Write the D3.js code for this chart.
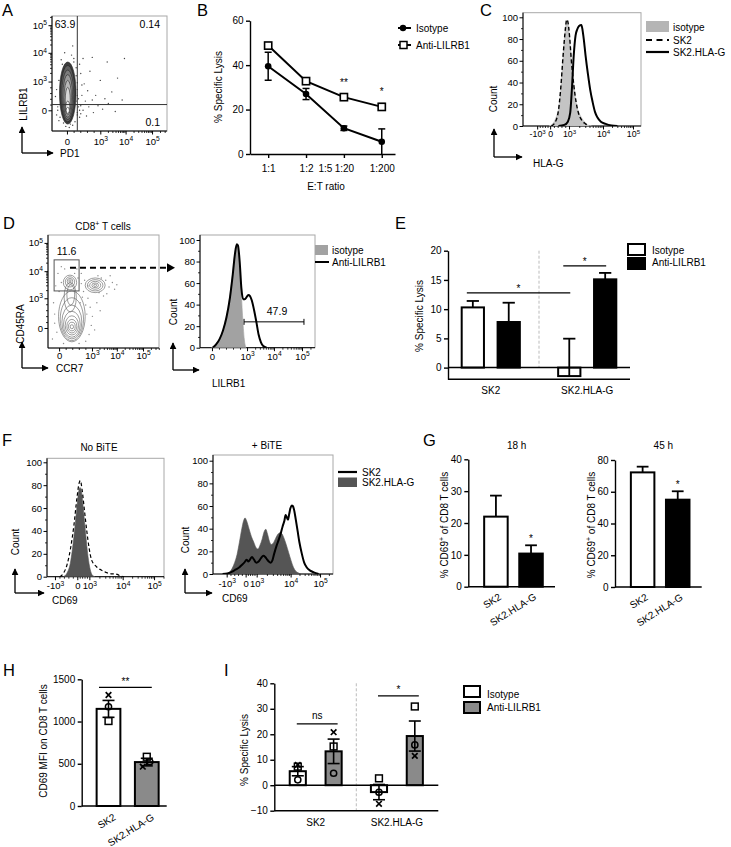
<!DOCTYPE html>
<html>
<head>
<meta charset="utf-8">
<script src="https://cdn.jsdelivr.net/npm/d3@7/dist/d3.min.js"></script>
<style>html,body{margin:0;padding:0;background:#fff;}svg{display:block;}</style>
</head>
<body>
<script>
// ======================= DATA =======================
// --- A: LILRB1 vs PD1 (display channel units 0-100) ---
const logLabels = ["0", "10^{3}", "10^{4}", "10^{5}"];
const negLogLabels = ["-10^{3}", "0", "10^{3}", "10^{4}", "10^{5}"];
const aXTickCh = [13, 42, 64, 87];
const aYTickCh = [18, 43, 68, 92];
const aQuadCut = [22, 23];
const aQuadPct = ["63.9", "0.14", "0.1"];
const aContours = [[13.7,33,7.2,27],[13.7,32.5,6.2,24.5],[13.7,31.5,5.2,21.5],[13.7,30.5,4.2,18.5],
  [13.7,29,3.2,15],[13.7,27,2.2,11],[13.7,21,1.8,5],[13.7,18,1.4,2.6]];
const aEvents = [[7,12],[8,28],[6,44],[9,58],[11,68],[17,66],[19,60],[21,48],[22,36],[23,28],[22,14],[20,8],[16,6],[10,7],[5,18],
  [25,22],[26,31],[27,18],[28,41],[29,26],[30,13],[31,35],[32,21],[33,52],[35,27],[36,16],[38,31],[40,22],[42,44],[44,19],
  [46,28],[48,60],[49,24],[52,34],[55,17],[57,46],[61,27],[24,58],[27,63],[18,74],[35,64],[63,63],[24,12],[26,40],[25,50],
  [4,14],[5,21],[6,9],[22,16],[23,21],[24,18],[25,15],[21,26],[22,31],[3,30],[4,36],[22,42],[21,55],[8,62],[19,63],[12,4],[15,3],[18,5]];

// --- B: % specific lysis vs E:T ratio ---
const bRatios = ["1:1", "1:2", "1:20", "1:200"];
const bTickLabels = ["1:1", "1:2", "1:5", "1:20", "1:200"];
const bTickAt = [0, 1, 1.5, 2, 3];
const bYTicks = [0, 20, 40, 60];
const bIsotype = [39.5, 27, 11.6, 5.5];
const bIsotypeErr = [6.3, 2.5, 1.0, 5.8];
const bAnti = [48.8, 32.8, 25.6, 21.2];
const bAntiErr = [1.3, 1.0, 1.0, 1.5];
const bStars = ["", "", "**", "*"];
const bLegend = ["Isotype", "Anti-LILRB1"];

// --- C: HLA-G histograms ---
const countTicks = [0, 20, 40, 60, 80, 100];
const cXTickCh = [12, 23, 39, 67.8, 93.2];
const cIsotype = [[22,0],[25,2],[28,8],[31,22],[33,50],[35,80],[36.5,95],[37.5,97],[38.5,92],[40,75],[42,50],[44,30],[46,17],[49,9],[52,4],[55,1],[58,0]];
const cSK2 = [[24,0],[27,3],[30,14],[32,35],[34,65],[36,90],[37,98],[38,96],[39.5,82],[41,60],[43,38],[45,22],[47,12],[50,5],[53,2],[56,0]];
const cHLAG = [[30,0],[35,1],[38,4],[40,12],[41.5,35],[43,65],[44.5,83],[46,89],[47.5,92],[49.5,93],[50.5,88],[51.5,80],[53,65],[55,48],[57,33],[59,22],[61,13],[63,8],[66,4],[70,2],[75,0.5],[80,0]];
const cLegend = ["isotype", "SK2", "SK2.HLA-G"];

// --- D: CD45RA vs CCR7 and LILRB1 histogram ---
const dXTickCh = [10, 39.6, 62, 85.6];
const dYTickCh = [17.7, 44, 68, 93];
const dContours = [
  [21.5,28,12,22.5],[21.5,25.5,10.5,19],[21.5,23,9,15],[21.5,21,7.5,11.5],[21.5,20,6,8.5],[21.5,19.3,4.5,6],[21.5,19,3,3.8],[21.5,18.8,1.5,1.8],
  [20,45,5.5,13],[20.5,47,3.5,9],
  [19.8,58,6,6.5],[19.8,58.5,4.2,4.5],[19.8,59,2.5,2.6],[19.8,59.3,1,1.1],
  [42.5,55.5,9,6.5],[42.5,55.5,7,5],[42.5,55.5,5,3.5],[42.5,55.5,3,2.1],[42.5,55.5,1.3,1]
];
const dEvents = [[4,8],[6,22],[5,40],[7,55],[9,66],[12,72],[15,70],[26,70],[30,66],[33,60],[32,50],[36,44],[38,36],[40,28],[39,20],[37,12],[34,6],[28,4],[14,4],[8,14],
  [30,57],[27,62],[48,62],[52,60],[55,54],[53,48],[50,46],[46,49],[58,58],[60,52],[44,40],[47,33],[42,16],[35,30],[34,38],[24,66],[10,50],[6,30],[56,64],[36,55],[62,56],[45,64],[31,45],[29,40],[12,58]];
const dGate = [5.5, 50.5, 28, 78];
const dGatePct = "11.6";
const dHXTickCh = [10.4, 40.9, 64.3, 88.7];
const dIsotype = [[10,0],[13,2],[16,6],[19,13],[22,25],[25,42],[28,65],[30,85],[31.5,94],[32.5,95],[34,85],[35.5,60],[37,30],[38.5,8],[40,0]];
const dAnti = [[11,0],[14,3],[17,8],[20,16],[23,28],[26,46],[28.5,68],[30.5,88],[32,96],[33,95],[34.5,80],[36,55],[37.5,45],[39,45],[40.5,47],[42,49],[43.5,48],[45,44],[47,35],[49,24],[51,12],[53,5],[55,1.5],[58,0]];
const dMarker = [38.3, 90.4, 24];
const dMarkerPct = "47.9";
const dLegend = ["isotype", "Anti-LILRB1"];

// --- E: % specific lysis, bars ---
const eGroups = ["SK2", "SK2.HLA-G"];
const eSeries = ["Isotype", "Anti-LILRB1"];
const eIsotype = [10.3, -1.45];
const eIsotypeErr = [1.1, 6.4];
const eAnti = [7.8, 15.1];
const eAntiErr = [3.3, 1.1];
const eYTicks = [0, 5, 10, 15, 20];
const eSig = [
  {g1: "SK2", s1: "Isotype", g2: "SK2.HLA-G", s2: "Isotype", at: 12.8, label: "*"},
  {g1: "SK2.HLA-G", s1: "Isotype", g2: "SK2.HLA-G", s2: "Anti-LILRB1", at: 17.4, label: "*"}
];

// --- F: CD69 histograms ---
const fLXTickCh = [6.8, 25.9, 36.2, 64.7, 91.5];
const fRXTickCh = [11.4, 27.2, 36.4, 64.7, 89.2];
const fNoBiteFill = [[14,0],[17,3],[20,12],[23,35],[25.5,60],[27,74],[28.2,78],[29.5,74],[31,60],[33,38],[35,18],[37,6],[39,1],[41,0]];
const fNoBiteDash = [[11,0],[14,3],[17,10],[20,24],[23,45],[25.5,68],[27.5,82],[28.5,84],[30,76],[32,58],[34,40],[36,25],[38,15],[42,9],[46,6],[50,4],[55,2.5],[58,2.5],[60,2],[63,0.5],[66,0]];
const fHLAG = [[10,0],[13,1],[16,5],[18,10],[20,17],[22,28],[24,40],[25.5,47],[26.7,49.5],[28,47],[30,40],[32,33],[34,28],[36,23],[37.5,22],[39,25],[41,31],[42.5,37],[44,39.5],[45.5,35],[47,29],[48.5,26],[50,27],[52,31],[54,35],[56,36.5],[57.5,35.5],[59,32],[61,26],[63,19],[65,12],[67,6],[69,2.5],[71,1],[73,0]];
const fSK2 = [[8,0],[12,0.5],[16,2],[19,4],[22,6],[24,8],[26,10],[28,12.5],[29.5,11],[31,13],[32.5,15],[34,13],[36,10],[38,11],[40,14],[42,16],[43.5,15],[45,13],[46.5,11],[48,10],[49.5,12],[51,18],[53,25],[55,31],[56.5,36],[58,42],[59.5,47],[60.5,52],[61.5,50],[62.5,48],[63.5,53],[64.5,58],[65.6,60.5],[66.5,60],[67.5,57],[69,48],[70.5,38],[72,28],[74,18],[76,10],[78,6],[81,3],[84,1.5],[88,0]];
const fLegend = ["SK2", "SK2.HLA-G"];

// --- G: % CD69+ of CD8 T cells ---
const gGroups = ["SK2", "SK2.HLA-G"];
const g18Mean = [22, 10.4];
const g18Err = [6.6, 2.6];
const g45Mean = [72.2, 55];
const g45Err = [3.6, 5.3];
const g18Ticks = [0, 10, 20, 30, 40];
const g45Ticks = [0, 20, 40, 60, 80];

// --- H: CD69 MFI ---
const hGroups = ["SK2", "SK2.HLA-G"];
const hMean = [1150, 520];
const hSem = [100, 45];
const hDonorMarks = ["x", "circle", "square"];
const hValues = [[1314, 1175, 1006], [465, 524, 583]];
const hTicks = [0, 500, 1000, 1500];

// --- I: % specific lysis with donors ---
const iGroups = ["SK2", "SK2.HLA-G"];
const iSeries = ["Isotype", "Anti-LILRB1"];
const iIsotype = [5.5, -2.7];
const iIsotypeErr = [1.8, 3.0];
const iAnti = [13.3, 19.3];
const iAntiErr = [4.8, 5.9];
const iDonorMarks = ["x", "circle", "square"];
const iIsotypePts = [[8, 2.1, 7.3], [-7.3, -2.75, 2.7]];
const iAntiPts = [[20.8, 4.7, 15.2], [11.5, 15.8, 30.9]];
const iTicks = [-10, 0, 10, 20, 30, 40];

// ======================= RENDER =======================
const FONT = "'Liberation Sans', Arial, Helvetica, sans-serif";
const svg = d3.select("body").append("svg").attr("width", 731).attr("height", 847).attr("font-family", FONT);
svg.append("rect").attr("width", 731).attr("height", 847).attr("fill", "#fff");
const defs = svg.append("defs");
function mkArrow(id, size) {
  defs.append("marker").attr("id", id).attr("viewBox", "0 0 10 10").attr("refX", 9).attr("refY", 5)
    .attr("markerWidth", size).attr("markerHeight", size).attr("markerUnits", "userSpaceOnUse")
    .attr("orient", "auto").append("path").attr("d", "M0,0L10,5L0,10Z").attr("fill", "#000");
}
mkArrow("arr", 7);
let clipN = 0;
function clipRect(x, y, w, h) {
  const id = "clip" + (clipN++);
  defs.append("clipPath").attr("id", id).append("rect").attr("x", x).attr("y", y).attr("width", w).attr("height", h);
  return `url(#${id})`;
}

function rich(sel, str, fs) {
  sel.text(null);
  const parts = str.split(/(\^\{[^}]*\})/).filter(s => s.length);
  const sh = fs * 0.38;
  let raised = false;
  parts.forEach(p => {
    if (p.startsWith("^{")) {
      sel.append("tspan").attr("dy", -sh).attr("font-size", fs * 0.7).text(p.slice(2, -1));
      raised = true;
    } else {
      const t = sel.append("tspan").text(p);
      if (raised) { t.attr("dy", sh); raised = false; }
    }
  });
}
function txt(x, y, str, o = {}) {
  const fs = o.fs || 10;
  const t = svg.append("text").attr("font-size", fs).attr("text-anchor", o.anchor || "start").attr("fill", "#000");
  if (o.rot) t.attr("transform", `translate(${x},${y}) rotate(${o.rot})`);
  else t.attr("x", x).attr("y", y);
  rich(t, str, fs);
  return t;
}
function styleAx(g, fs, sw) {
  g.attr("font-family", FONT).attr("font-size", fs);
  g.select(".domain").attr("stroke", "#000").attr("stroke-width", sw);
  g.selectAll(".tick line").attr("stroke", "#000").attr("stroke-width", sw);
  g.selectAll(".tick text").attr("fill", "#000");
}
function line(x1, y1, x2, y2, sw = 1, col = "#000", dash = null) {
  const l = svg.append("line").attr("x1", x1).attr("y1", y1).attr("x2", x2).attr("y2", y2)
    .attr("stroke", col).attr("stroke-width", sw);
  if (dash) l.attr("stroke-dasharray", dash);
  return l;
}
function axisArrows(cx, cy, topY, rightX) {
  svg.append("path").attr("d", `M${cx},${cy}V${topY}`).attr("stroke", "#000").attr("stroke-width", 1.3).attr("fill", "none").attr("marker-end", "url(#arr)");
  svg.append("path").attr("d", `M${cx},${cy}H${rightX}`).attr("stroke", "#000").attr("stroke-width", 1.3).attr("fill", "none").attr("marker-end", "url(#arr)");
}
function panelLetter(x, y, s) { txt(x, y, s, {fs: 16.5}); }

function minorTicks(pos, lab) {
  const out = [];
  for (let i = 0; i < pos.length - 1; i++) {
    const a = pos[i], b = pos[i + 1];
    const bothLog = /^10\^/.test(lab[i]) && /^10\^/.test(lab[i + 1]);
    if (bothLog) for (let m = 2; m <= 9; m++) out.push(a + Math.log10(m) * (b - a));
    else for (let k = 1; k < 5; k++) out.push(a + k * (b - a) / 5);
  }
  const n = pos.length, a = pos[n - 2], b = pos[n - 1];
  for (let m = 2; m <= 9; m++) { const v = b + Math.log10(m) * (b - a); if (v <= 100) out.push(v); }
  return out;
}

function flowFrame(o) {
  const xs = d3.scaleLinear().domain([0, 100]).range([o.x0, o.x1]);
  svg.append("rect").attr("x", o.x0).attr("y", o.top).attr("width", o.x1 - o.x0).attr("height", o.bot - o.top)
    .attr("fill", "none").attr("stroke", "#a8a8a8").attr("stroke-width", 1);
  const fs = o.fs || 9.5;
  const gx = svg.append("g").attr("transform", `translate(0,${o.bot})`)
    .call(d3.axisBottom(xs).tickValues(o.xCh).tickSize(3.5).tickSizeOuter(0));
  gx.select(".domain").remove();
  gx.selectAll(".tick text").attr("dy", null).attr("y", o.labOff).each(function (d, i) { rich(d3.select(this), o.xLab[i], fs); });
  styleAx(gx, fs, 1);
  const gxm = svg.append("g").attr("transform", `translate(0,${o.bot})`)
    .call(d3.axisBottom(xs).tickValues(minorTicks(o.xCh, o.xLab)).tickSize(2).tickFormat("").tickSizeOuter(0));
  gxm.select(".domain").remove(); styleAx(gxm, fs, 0.8);
  const gy = svg.append("g").attr("transform", `translate(${o.x0},0)`)
    .call(d3.axisLeft(o.yScale).tickValues(o.yVals).tickSize(3.5).tickSizeOuter(0).tickPadding(1.5));
  gy.select(".domain").remove();
  gy.selectAll(".tick text").each(function (d, i) { rich(d3.select(this), o.yLab[i], 9.5); });
  styleAx(gy, 9.5, 1);
  if (o.yMinor) {
    const gym = svg.append("g").attr("transform", `translate(${o.x0},0)`)
      .call(d3.axisLeft(o.yScale).tickValues(o.yMinor).tickSize(2).tickFormat("").tickSizeOuter(0));
    gym.select(".domain").remove(); styleAx(gym, 9.5, 0.8);
  }
  line(o.x0, o.top, o.x0, o.bot, 1);
  line(o.x0, o.bot, o.x1, o.bot, 1);
  return xs;
}
function drawContours(xs, ys, rings, clip, stroke, fills) {
  const g = svg.append("g").attr("clip-path", clip);
  rings.forEach((r, i) => {
    g.append("ellipse").attr("cx", xs(r[0])).attr("cy", ys(r[1]))
      .attr("rx", xs(r[0] + r[2]) - xs(r[0])).attr("ry", ys(r[1]) - ys(r[1] + r[3]))
      .attr("fill", (fills && fills[i]) || "none").attr("stroke", stroke).attr("stroke-width", 0.6);
  });
}
function drawEvents(xs, ys, pts, clip, col) {
  svg.append("g").attr("clip-path", clip).selectAll("circle").data(pts).join("circle")
    .attr("cx", d => xs(d[0])).attr("cy", d => ys(d[1])).attr("r", 0.7).attr("fill", col);
}
function histArea(xs, ys, data, fill, clip) {
  svg.append("path").datum(data).attr("clip-path", clip)
    .attr("d", d3.area().curve(d3.curveMonotoneX).x(d => xs(d[0])).y0(ys(0)).y1(d => ys(d[1])))
    .attr("fill", fill).attr("stroke", fill).attr("stroke-width", 0.6);
}
function histLine(xs, ys, data, sw, dash, clip) {
  const p = svg.append("path").datum(data).attr("clip-path", clip)
    .attr("d", d3.line().curve(d3.curveMonotoneX).x(d => xs(d[0])).y(d => ys(d[1])))
    .attr("fill", "none").attr("stroke", "#000").attr("stroke-width", sw).attr("stroke-linejoin", "round");
  if (dash) p.attr("stroke-dasharray", dash);
}
function mark(type, cx, cy) {
  if (type === "circle") svg.append("circle").attr("cx", cx).attr("cy", cy).attr("r", 3.1).attr("fill", "none").attr("stroke", "#000").attr("stroke-width", 1.5);
  else if (type === "square") svg.append("rect").attr("x", cx - 3.4).attr("y", cy - 3.4).attr("width", 6.8).attr("height", 6.8).attr("fill", "none").attr("stroke", "#000").attr("stroke-width", 1.5);
  else svg.append("path").attr("d", `M${cx - 2.8},${cy - 2.8}L${cx + 2.8},${cy + 2.8}M${cx + 2.8},${cy - 2.8}L${cx - 2.8},${cy + 2.8}`).attr("stroke", "#000").attr("stroke-width", 1.7);
}
function errUp(cx, yv, yt, cap, sw = 1.8) {
  line(cx, yv, cx, yt, sw);
  line(cx - cap / 2, yt, cx + cap / 2, yt, sw);
}
function barAxisY(x, scale, ticks, fs = 10) {
  const g = svg.append("g").attr("transform", `translate(${x},0)`)
    .call(d3.axisLeft(scale).tickValues(ticks).tickFormat(d3.format("d")).tickSize(4).tickSizeOuter(0).tickPadding(2.5));
  styleAx(g, fs, 1.4);
  return g;
}

// ---------------- Panel A ----------------
panelLetter(2, 15.5, "A");
{
  const box = {x0: 52, x1: 167, top: 16, bot: 131};
  const ys = d3.scaleLinear().domain([0, 100]).range([box.bot, box.top]);
  const xs = flowFrame({...box, xCh: aXTickCh, xLab: logLabels, yScale: ys, yVals: aYTickCh, yLab: logLabels,
    yMinor: minorTicks(aYTickCh, logLabels), labOff: 14});
  const clip = clipRect(box.x0, box.top, box.x1 - box.x0, box.bot - box.top);
  drawEvents(xs, ys, aEvents, clip, "#444");
  drawContours(xs, ys, aContours, clip, "#222", ["#3c3c3c", "#5e5e5e", "#7c7c7c", "#9a9a9a", "#b9b9b9", "#d6d6d6", "#eeeeee", "#fff"]);
  line(xs(aQuadCut[0]), box.top, xs(aQuadCut[0]), box.bot, 1, "#333");
  line(box.x0, ys(aQuadCut[1]), box.x1, ys(aQuadCut[1]), 1, "#333");
  txt(box.x0 + 13, box.top + 12, aQuadPct[0], {fs: 10.5, anchor: "middle"});
  txt(box.x1 - 7, box.top + 12, aQuadPct[1], {fs: 10.5, anchor: "end"});
  txt(box.x1 - 7, box.bot - 5, aQuadPct[2], {fs: 10.5, anchor: "end"});
  axisArrows(22, 153, 127, 53);
  txt(26.5, 104, "LILRB1", {rot: -90, anchor: "middle"});
  txt(60, 157, "PD1");
}

// ---------------- Panel B ----------------
panelLetter(197, 15.5, "B");
{
  const bx = d3.scaleLinear().domain([-0.48, 3.35]).range([250, 395]);
  const by = d3.scaleLinear().domain([0, 60]).range([154, 20.7]);
  barAxisY(250, by, bYTicks);
  const gx = svg.append("g").attr("transform", "translate(0,154)")
    .call(d3.axisBottom(bx).tickValues(bTickAt).tickFormat((d, i) => bTickLabels[i]).tickSize(4).tickSizeOuter(0).tickPadding(6.5));
  styleAx(gx, 10, 1.4);
  gx.selectAll(".tick line").filter(d => d % 1 !== 0).remove();
  const lineGen = d3.line().x((d, i) => bx(i)).y(d => by(d));
  svg.append("path").datum(bIsotype).attr("d", lineGen).attr("fill", "none").attr("stroke", "#000").attr("stroke-width", 2);
  svg.append("path").datum(bAnti).attr("d", lineGen).attr("fill", "none").attr("stroke", "#000").attr("stroke-width", 2);
  const eb = (v, e, i) => {
    const cx = bx(i), lo = Math.max(0, v - e), hi = v + e;
    line(cx, by(lo), cx, by(hi), 1.5);
    line(cx - 3.5, by(hi), cx + 3.5, by(hi), 1.5);
    if (lo > 0) line(cx - 3.5, by(lo), cx + 3.5, by(lo), 1.5);
  };
  bIsotype.forEach((v, i) => eb(v, bIsotypeErr[i], i));
  bAnti.forEach((v, i) => eb(v, bAntiErr[i], i));
  bIsotype.forEach((v, i) => svg.append("circle").attr("cx", bx(i)).attr("cy", by(v)).attr("r", 3.3).attr("fill", "#000"));
  bAnti.forEach((v, i) => svg.append("rect").attr("x", bx(i) - 3.6).attr("y", by(v) - 3.6).attr("width", 7.2).attr("height", 7.2)
    .attr("fill", "#fff").attr("stroke", "#000").attr("stroke-width", 1.6));
  bStars.forEach((s, i) => { if (s) txt(bx(i), by(bAnti[i] + bAntiErr[i]) - 9, s, {anchor: "middle"}); });
  txt(221.5, 87, "% Specific Lysis", {rot: -90, anchor: "middle"});
  txt(326, 190, "E:T ratio", {anchor: "middle"});
  line(398, 28, 411, 28, 2);
  svg.append("circle").attr("cx", 403).attr("cy", 28).attr("r", 3.2).attr("fill", "#000");
  txt(416, 31.5, bLegend[0]);
  line(398, 45, 411, 45, 2);
  svg.append("rect").attr("x", 400).attr("y", 41.5).attr("width", 7).attr("height", 7).attr("fill", "#fff").attr("stroke", "#000").attr("stroke-width", 1.5);
  txt(416, 48.5, bLegend[1]);
}

// ---------------- Panel C ----------------
panelLetter(480, 15.5, "C");
{
  const box = {x0: 523, x1: 641, top: 12.7, bot: 126};
  const ys = d3.scaleLinear().domain([0, 100]).range([126, 17.3]);
  const xs = flowFrame({...box, xCh: cXTickCh, xLab: negLogLabels, yScale: ys, yVals: countTicks, yLab: countTicks.map(String),
    yMinor: [10, 30, 50, 70, 90], labOff: 11, fs: 8.8});
  const clip = clipRect(box.x0, box.top, box.x1 - box.x0, box.bot - box.top);
  histArea(xs, ys, cIsotype, "#c4c4c4", clip);
  histLine(xs, ys, cSK2, 1.4, "4,2.5", clip);
  histLine(xs, ys, cHLAG, 2, null, clip);
  axisArrows(494, 157, 129, 522);
  txt(497, 99, "Count", {rot: -90, anchor: "middle"});
  txt(533, 166.5, "HLA-G");
  svg.append("rect").attr("x", 646).attr("y", 21).attr("width", 23).attr("height", 11).attr("fill", "#b5b5b5");
  txt(673, 30.5, cLegend[0]);
  line(646, 40, 669, 40, 2, "#000", "6,4.5");
  txt(673, 43.5, cLegend[1]);
  line(646, 52, 669, 52, 2.2);
  txt(673, 55.5, cLegend[2]);
}

// ---------------- Panel D ----------------
panelLetter(3, 228.5, "D");
txt(103, 229.5, "CD8^{+} T cells", {anchor: "middle"});
{
  const box = {x0: 48, x1: 159, top: 235, bot: 348};
  const ys = d3.scaleLinear().domain([0, 100]).range([box.bot, box.top]);
  const xs = flowFrame({...box, xCh: dXTickCh, xLab: logLabels, yScale: ys, yVals: dYTickCh, yLab: logLabels,
    yMinor: minorTicks(dYTickCh, logLabels), labOff: 11});
  const clip = clipRect(box.x0, box.top, box.x1 - box.x0, box.bot - box.top);
  drawEvents(xs, ys, dEvents, clip, "#8a8a8a");
  drawContours(xs, ys, dContours, clip, "#5a5a5a", null);
  svg.append("rect").attr("x", xs(dGate[0])).attr("y", ys(dGate[3])).attr("width", xs(dGate[2]) - xs(dGate[0]))
    .attr("height", ys(dGate[1]) - ys(dGate[3])).attr("fill", "none").attr("stroke", "#555").attr("stroke-width", 1);
  txt(xs((dGate[0] + dGate[2]) / 2), ys(dGate[3]) - 5, dGatePct, {fs: 10.5, anchor: "middle"});
  const ay = ys(dGate[3]) + 8;
  svg.append("path").attr("d", `M${xs(19.8)},${ay}H167`).attr("stroke", "#000").attr("stroke-width", 2)
    .attr("stroke-dasharray", "6,4").attr("fill", "none");
  svg.append("path").attr("d", `M167,${ay - 4.5}L175,${ay}L167,${ay + 4.5}Z`).attr("fill", "#000");
  axisArrows(22, 368, 342, 48);
  txt(24, 324, "CD45RA", {rot: -90, anchor: "middle"});
  txt(56, 372, "CCR7");
}
{
  const box = {x0: 200, x1: 315, top: 235, bot: 347.7};
  const ys = d3.scaleLinear().domain([0, 100]).range([347.7, 240]);
  const xs = flowFrame({...box, xCh: dHXTickCh, xLab: logLabels, yScale: ys, yVals: countTicks, yLab: countTicks.map(String),
    yMinor: [10, 30, 50, 70, 90], labOff: 12});
  const clip = clipRect(box.x0, box.top, box.x1 - box.x0, box.bot - box.top);
  histArea(xs, ys, dIsotype, "#a2a2a2", clip);
  histLine(xs, ys, dAnti, 2, null, clip);
  const my = ys(dMarker[2]);
  line(xs(dMarker[0]), my, xs(dMarker[1]), my, 1);
  line(xs(dMarker[0]), my - 3, xs(dMarker[0]), my + 3, 1);
  line(xs(dMarker[1]), my - 3, xs(dMarker[1]), my + 3, 1);
  txt(277, my - 7, dMarkerPct, {fs: 10.5, anchor: "middle"});
  axisArrows(173, 370, 343, 199);
  txt(176.5, 312, "Count", {rot: -90, anchor: "middle"});
  txt(212, 387, "LILRB1");
  svg.append("rect").attr("x", 315).attr("y", 245).attr("width", 13).attr("height", 10).attr("fill", "#a2a2a2");
  txt(332, 253.5, dLegend[0]);
  line(315, 262, 329, 262, 2);
  txt(332, 265.5, dLegend[1]);
}

// ---------------- Panel E ----------------
panelLetter(395, 228.5, "E");
{
  const ey = d3.scaleLinear().domain([-2, 20]).range([379.3, 250.7]);
  const ex0 = d3.scaleBand().domain(eGroups).range([448, 630]).paddingInner(0.397).paddingOuter(0.142);
  const ex1 = d3.scaleBand().domain(eSeries).range([0, ex0.bandwidth()]).paddingInner(0.38);
  const bw = ex1.bandwidth();
  const mid = (ex0(eGroups[0]) + ex0.bandwidth() + ex0(eGroups[1])) / 2;
  line(mid, ey(20), mid, ey(0), 0.8, "#aaa", "3,2");
  const vals = {Isotype: [eIsotype, eIsotypeErr, "#fff"], "Anti-LILRB1": [eAnti, eAntiErr, "#000"]};
  eSeries.forEach(s => {
    const [m, e, fill] = vals[s];
    eGroups.forEach((g, gi) => {
      const x = ex0(g) + ex1(s), v = m[gi];
      svg.append("rect").attr("x", x).attr("y", ey(Math.max(0, v))).attr("width", bw)
        .attr("height", Math.abs(ey(v) - ey(0))).attr("fill", fill).attr("stroke", "#000").attr("stroke-width", 2);
      errUp(x + bw / 2, ey(v), ey(v + e[gi]), bw * 0.55);
    });
  });
  barAxisY(448, ey, eYTicks);
  line(448, ey(0), 630, ey(0), 1.5);
  line(448, ey(-2), 630, ey(-2), 1.5);
  eGroups.forEach(g => txt(ex0(g) + ex0.bandwidth() / 2, 394, g, {anchor: "middle"}));
  eSig.forEach(s => {
    const x1 = ex0(s.g1) + ex1(s.s1) + bw / 2 - 6, x2 = ex0(s.g2) + ex1(s.s2) + bw / 2 + 1;
    line(x1, ey(s.at), x2, ey(s.at), 1.2);
    txt((x1 + x2) / 2, ey(s.at) - 1, s.label, {anchor: "middle"});
  });
  txt(423, 316, "% Specific Lysis", {rot: -90, anchor: "middle"});
  svg.append("rect").attr("x", 628).attr("y", 244).attr("width", 17).attr("height", 11).attr("fill", "#fff").attr("stroke", "#000").attr("stroke-width", 2);
  txt(652, 253.5, eSeries[0]);
  svg.append("rect").attr("x", 627).attr("y", 257).attr("width", 19).attr("height", 13).attr("fill", "#000");
  txt(652, 266, eSeries[1]);
}

// ---------------- Panel F ----------------
panelLetter(2, 445.5, "F");
txt(99, 451, "No BiTE", {anchor: "middle"});
txt(267, 449, "+ BiTE", {anchor: "middle"});
{
  const box = {x0: 47, x1: 164, top: 458.3, bot: 576.7};
  const ys = d3.scaleLinear().domain([0, 100]).range([576.7, 462.3]);
  const xs = flowFrame({...box, xCh: fLXTickCh, xLab: negLogLabels, yScale: ys, yVals: countTicks, yLab: countTicks.map(String),
    yMinor: [10, 30, 50, 70, 90], labOff: 12.5});
  const clip = clipRect(box.x0, box.top, box.x1 - box.x0, box.bot - box.top);
  histArea(xs, ys, fNoBiteFill, "#555", clip);
  histLine(xs, ys, fNoBiteDash, 1.2, "3.5,2.5", clip);
  axisArrows(15, 593, 569, 44);
  txt(19, 542, "Count", {rot: -90, anchor: "middle"});
  txt(52, 604, "CD69");
}
{
  const box = {x0: 213, x1: 333, top: 455, bot: 574};
  const ys = d3.scaleLinear().domain([0, 100]).range([574, 460.7]);
  const xs = flowFrame({...box, xCh: fRXTickCh, xLab: negLogLabels, yScale: ys, yVals: countTicks, yLab: countTicks.map(String),
    yMinor: [10, 30, 50, 70, 90], labOff: 12.5});
  const clip = clipRect(box.x0, box.top, box.x1 - box.x0, box.bot - box.top);
  histArea(xs, ys, fHLAG, "#555", clip);
  histLine(xs, ys, fSK2, 2, null, clip);
  axisArrows(185, 593, 569, 212);
  txt(189, 540, "Count", {rot: -90, anchor: "middle"});
  txt(222, 601.5, "CD69");
  line(338, 472, 357, 472, 2.2);
  txt(362, 475.5, fLegend[0]);
  svg.append("rect").attr("x", 338).attr("y", 477.5).attr("width", 19).attr("height", 9.5).attr("fill", "#555");
  txt(362, 486, fLegend[1]);
}

// ---------------- Panel G ----------------
panelLetter(423, 445.5, "G");
function gChart(x0, x1, y0, y1, yMax, ticks, mean, err, title, ylabX) {
  const ys = d3.scaleLinear().domain([0, yMax]).range([y0, y1]);
  const xs = d3.scaleBand().domain(gGroups).range([x0, x1]).paddingInner(0.33).paddingOuter(0.4).align(0.565);
  const bw = xs.bandwidth();
  gGroups.forEach((g, i) => {
    svg.append("rect").attr("x", xs(g)).attr("y", ys(mean[i])).attr("width", bw).attr("height", ys(0) - ys(mean[i]))
      .attr("fill", i === 0 ? "#fff" : "#000").attr("stroke", "#000").attr("stroke-width", 2);
    errUp(xs(g) + bw / 2, ys(mean[i]), ys(mean[i] + err[i]), bw * 0.5);
    txt(xs(g) + bw / 2 + 6, y0 + 12, g, {rot: -32, anchor: "end"});
  });
  txt(xs(gGroups[1]) + bw / 2, ys(mean[1] + err[1]) - 3, "*", {anchor: "middle"});
  barAxisY(x0, ys, ticks);
  line(x0, y0, x1, y0, 1.4);
  txt((x0 + x1) / 2 + 5, 448.5, title, {anchor: "middle"});
  txt(ylabX, 525, "% CD69^{+} of CD8 T cells", {rot: -90, anchor: "middle"});
}
gChart(468.3, 555, 586.7, 459.3, 40, g18Ticks, g18Mean, g18Err, "18 h", 448);
gChart(615, 701.7, 587, 460, 80, g45Ticks, g45Mean, g45Err, "45 h", 595);

// ---------------- Panel H ----------------
panelLetter(3, 675.5, "H");
{
  const ys = d3.scaleLinear().domain([0, 1500]).range([806, 679.3]);
  const xs = d3.scaleBand().domain(hGroups).range([81.7, 166.7]).paddingInner(0.38).paddingOuter(0.3).align(0.65);
  const bw = xs.bandwidth();
  const jitter = [[0, 0, 0], [-4, 3, 0]];
  hGroups.forEach((g, i) => {
    const cx = xs(g) + bw / 2;
    svg.append("rect").attr("x", xs(g)).attr("y", ys(hMean[i])).attr("width", bw).attr("height", ys(0) - ys(hMean[i]))
      .attr("fill", i === 0 ? "#fff" : "#8a8a8a").attr("stroke", "#000").attr("stroke-width", 2);
    line(cx, ys(hMean[i] - hSem[i]), cx, ys(hMean[i] + hSem[i]), 1.6);
    line(cx - 6, ys(hMean[i] + hSem[i]), cx + 6, ys(hMean[i] + hSem[i]), 1.6);
    line(cx - 6, ys(hMean[i] - hSem[i]), cx + 6, ys(hMean[i] - hSem[i]), 1.6);
    hValues[i].forEach((v, k) => mark(hDonorMarks[k], cx + jitter[i][k], ys(v)));
    txt(cx + 8, 819, g, {rot: -32, anchor: "end"});
  });
  barAxisY(81.7, ys, hTicks);
  line(81.7, 806, 166.7, 806, 1.4);
  const sx1 = xs(hGroups[0]) + bw / 2 - 9.5, sx2 = xs(hGroups[1]) + bw / 2 + 5;
  line(sx1, ys(1405), sx2, ys(1405), 1.2);
  txt((sx1 + sx2) / 2, ys(1405) - 2.5, "**", {anchor: "middle"});
  txt(47, 741, "CD69 MFI on CD8 T cells", {rot: -90, anchor: "middle"});
}

// ---------------- Panel I ----------------
panelLetter(224, 675.5, "I");
{
  const iy = d3.scaleLinear().domain([-10, 40]).range([810.7, 683.3]);
  const ix0 = d3.scaleBand().domain(iGroups).range([274.3, 438.3]).paddingInner(0.36).paddingOuter(0.19);
  const ix1 = d3.scaleBand().domain(iSeries).range([0, ix0.bandwidth()]).paddingInner(0.55);
  const bw = ix1.bandwidth();
  const mid = (ix0(iGroups[0]) + ix0.bandwidth() + ix0(iGroups[1])) / 2;
  line(mid, iy(40), mid, iy(-10), 0.8, "#aaa", "3,2");
  const vals = {Isotype: [iIsotype, iIsotypeErr, iIsotypePts, "#fff"], "Anti-LILRB1": [iAnti, iAntiErr, iAntiPts, "#8a8a8a"]};
  iSeries.forEach(s => {
    const [m, e, pts, fill] = vals[s];
    iGroups.forEach((g, gi) => {
      const x = ix0(g) + ix1(s), v = m[gi], cx = x + bw / 2;
      svg.append("rect").attr("x", x).attr("y", iy(Math.max(0, v))).attr("width", bw)
        .attr("height", Math.abs(iy(v) - iy(0))).attr("fill", fill).attr("stroke", "#000").attr("stroke-width", 2);
      line(cx, iy(v - e[gi]), cx, iy(v + e[gi]), 1.6);
      line(cx - 6, iy(v + e[gi]), cx + 6, iy(v + e[gi]), 1.6);
      line(cx - 6, iy(v - e[gi]), cx + 6, iy(v - e[gi]), 1.6);
      pts[gi].forEach((p, k) => mark(iDonorMarks[k], cx, iy(p)));
    });
  });
  barAxisY(274.3, iy, iTicks);
  line(274.3, iy(0), 438.3, iy(0), 1.5);
  line(274.3, iy(-10), 438.3, iy(-10), 1.5);
  iGroups.forEach(g => txt(ix0(g) + ix0.bandwidth() / 2, 826, g, {anchor: "middle"}));
  const sig = [[iGroups[0], 24.1, "ns", 4.7], [iGroups[1], 35.1, "*", 2.5]];
  sig.forEach(([g, at, lab, off]) => {
    const x1 = ix0(g) + ix1(iSeries[0]) + bw / 2 - 1, x2 = ix0(g) + ix1(iSeries[1]) + bw / 2 + 4;
    line(x1, iy(at), x2, iy(at), 1.2);
    txt((x1 + x2) / 2, iy(at) - off, lab, {anchor: "middle"});
  });
  txt(248, 750, "% Specific Lysis", {rot: -90, anchor: "middle"});
  svg.append("rect").attr("x", 464).attr("y", 686).attr("width", 16).attr("height", 11).attr("fill", "#fff").attr("stroke", "#000").attr("stroke-width", 2);
  txt(487, 697.5, iSeries[0]);
  svg.append("rect").attr("x", 464).attr("y", 702).attr("width", 16).attr("height", 11).attr("fill", "#8a8a8a").attr("stroke", "#000").attr("stroke-width", 2);
  txt(487, 710.5, iSeries[1]);
}
</script>
</body>
</html>
